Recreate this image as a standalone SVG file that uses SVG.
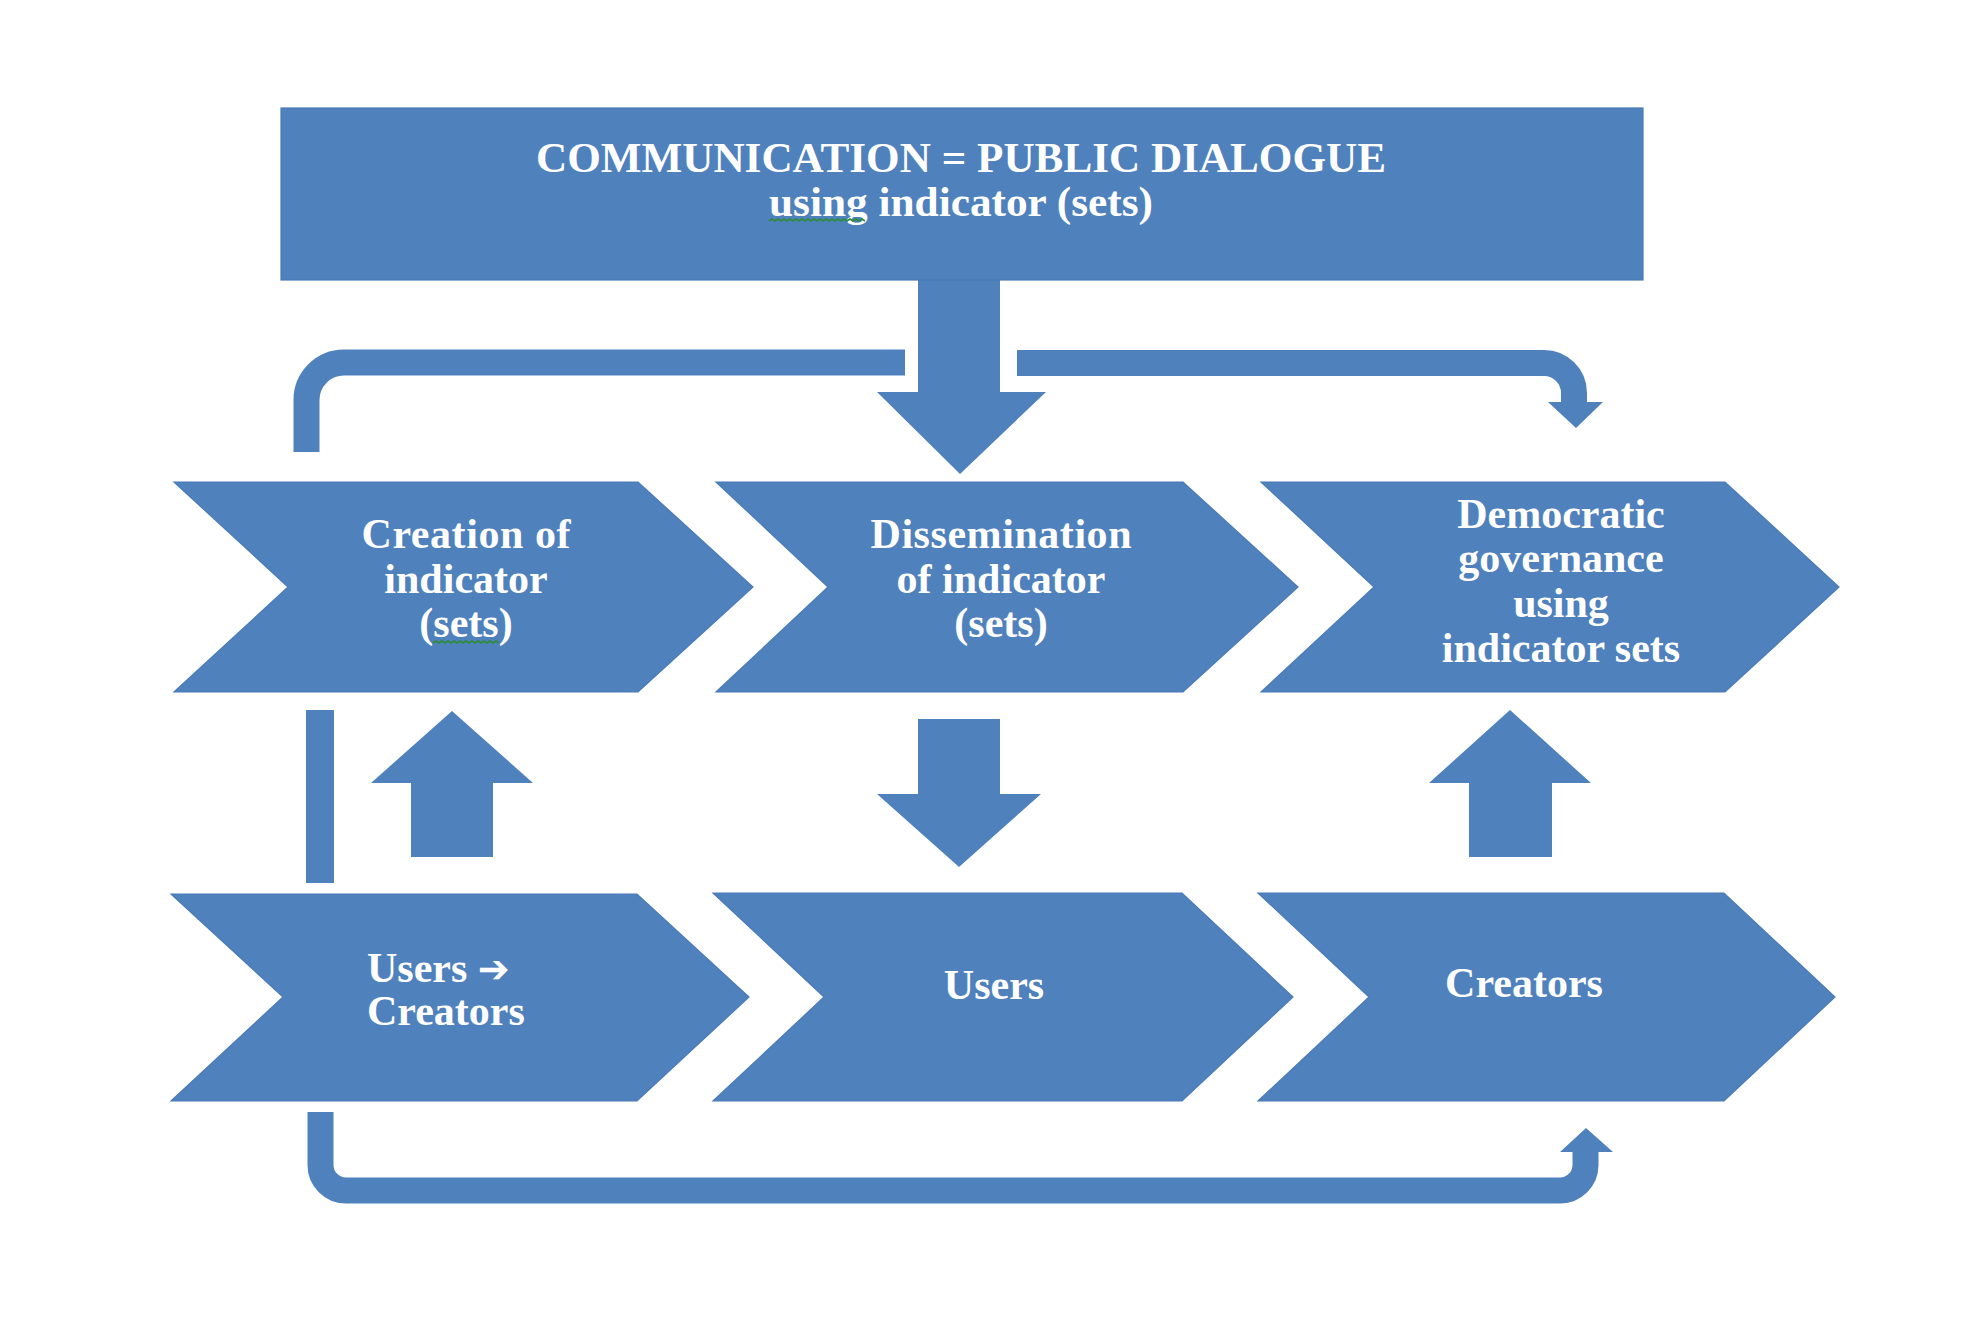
<svg xmlns="http://www.w3.org/2000/svg" width="1986" height="1324" viewBox="0 0 1986 1324">
  <style>
    .shape { fill: #4F81BD; stroke: #4A7BB7; stroke-width: 1.2; stroke-linejoin: miter; }
    .arrow { fill: #4F81BD; }
    .pipe { fill: none; stroke: #4F81BD; stroke-width: 26; stroke-linecap: butt; }
    .label { font-family: "Liberation Serif", "Times New Roman", serif; font-weight: bold; font-size: 42px; fill: #FFFFFF; text-anchor: middle; }
    .left { text-anchor: start; }
    .squiggle { fill: none; stroke: #2E8B3A; stroke-width: 1.6; }
  </style>
  <rect width="1986" height="1324" fill="#FFFFFF"/>

  <!-- Connectors: feedback loops and block arrows -->
  <g id="connectors">
    <!-- central arrow from the header into the dissemination step -->
    <polygon class="arrow" points="918,280 1000,280 1000,392 1046,392 960,474 877,392 918,392"/>
    <!-- top bracket, left branch -->
    <path class="pipe" d="M306.5,452 V400 A37.5,37.5 0 0 1 344,362.5 H905"/>
    <!-- top bracket, right branch with arrowhead -->
    <path class="pipe" d="M1017,363 H1544 A30,30 0 0 1 1574,393 V403"/>
    <polygon class="arrow" points="1548,402 1603,402 1576,428"/>
    <!-- vertical bar between the two left steps -->
    <rect class="arrow" x="306" y="710" width="28" height="173"/>
    <!-- block arrow: users/creators up to creation -->
    <polygon class="arrow" points="452,711 533,783 493,783 493,857 411,857 411,783 371,783"/>
    <!-- block arrow: dissemination down to users -->
    <polygon class="arrow" points="918,719 1000,719 1000,794 1041,794 959,867 877,794 918,794"/>
    <!-- block arrow: creators up to democratic governance -->
    <polygon class="arrow" points="1510,710 1591,783 1552,783 1552,857 1469,857 1469,783 1429,783"/>
    <!-- bottom loop with arrowhead -->
    <path class="pipe" d="M320.5,1112 V1165 A25.5,25.5 0 0 0 346,1190.5 H1560 A25.5,25.5 0 0 0 1585.5,1165 V1151"/>
    <polygon class="arrow" points="1560,1152 1613,1152 1586,1128"/>
  </g>

  <!-- Header box -->
  <g id="header">
    <rect class="shape" x="281" y="108" width="1362" height="172"/>
    <text class="label" x="961" y="172" textLength="850" lengthAdjust="spacingAndGlyphs">COMMUNICATION = PUBLIC DIALOGUE</text>
    <text class="label" x="961" y="216" textLength="384" lengthAdjust="spacingAndGlyphs">using indicator (sets)</text>
    <path class="squiggle" d="M769,221 l3,-2 l3,2 l3,-2 l3,2 l3,-2 l3,2 l3,-2 l3,2 l3,-2 l3,2 l3,-2 l3,2 l3,-2 l3,2 l3,-2 l3,2 l3,-2 l3,2 l3,-2 l3,2 l3,-2 l3,2 l3,-2 l3,2 l3,-2 l3,2 l3,-2 l3,2 l3,-2 l3,2 l3,-2 l3,2"/>
  </g>

  <!-- Top row of steps -->
  <g id="step-creation">
    <polygon class="shape" points="174,482 638,482 753,587 638,692 174,692 288,587"/>
    <text class="label" x="466" y="548" textLength="209">Creation of</text>
    <text class="label" x="466" y="593">indicator</text>
    <text class="label" x="466" y="637">(sets)</text>
    <path class="squiggle" d="M433,643 l3,-2 l3,2 l3,-2 l3,2 l3,-2 l3,2 l3,-2 l3,2 l3,-2 l3,2 l3,-2 l3,2 l3,-2 l3,2 l3,-2 l3,2 l3,-2 l3,2 l3,-2 l3,2 l3,-2 l3,2"/>
  </g>
  <g id="step-dissemination">
    <polygon class="shape" points="716,482 1183,482 1298,587 1183,692 716,692 828,587"/>
    <text class="label" x="1001" y="548" textLength="261">Dissemination</text>
    <text class="label" x="1001" y="593">of indicator</text>
    <text class="label" x="1001" y="637">(sets)</text>
  </g>
  <g id="step-governance">
    <polygon class="shape" points="1261,482 1725,482 1839,587 1725,692 1261,692 1374,587"/>
    <text class="label" x="1561" y="528">Democratic</text>
    <text class="label" x="1561" y="572">governance</text>
    <text class="label" x="1561" y="617">using</text>
    <text class="label" x="1561" y="662">indicator sets</text>
  </g>

  <!-- Bottom row of actors -->
  <g id="actor-users-creators">
    <polygon class="shape" points="171,894 637,894 749,997 637,1101 171,1101 283,997"/>
    <text class="label left" x="367" y="982">Users <tspan font-family="DejaVu Sans, sans-serif" font-size="38">➔</tspan></text>
    <text class="label left" x="367" y="1025">Creators</text>
  </g>
  <g id="actor-users">
    <polygon class="shape" points="713,893 1182,893 1293,997 1182,1101 713,1101 824,997"/>
    <text class="label" x="994" y="999">Users</text>
  </g>
  <g id="actor-creators">
    <polygon class="shape" points="1258,893 1724,893 1835,997 1724,1101 1258,1101 1369,997"/>
    <text class="label" x="1524" y="997">Creators</text>
  </g>
</svg>
